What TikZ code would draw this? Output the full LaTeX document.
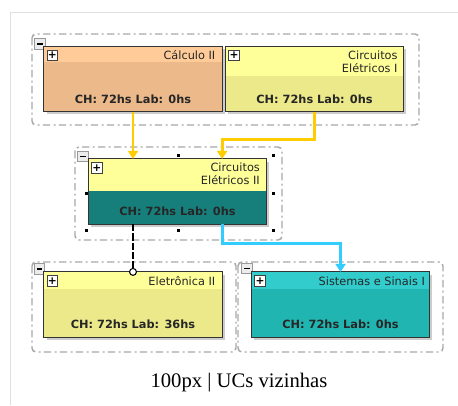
\documentclass[tikz,border=0pt]{standalone}
\usepackage{fontspec}
\setmainfont{Liberation Serif}
\newfontfamily\ucfont{DejaVu Sans}
\usetikzlibrary{arrows.meta,positioning,shadows,calc}

\definecolor{calchead}{HTML}{FFCC99}
\definecolor{calcbody}{HTML}{EBB98A}
\definecolor{yellowhead}{HTML}{FFFF99}
\definecolor{yellowbody}{HTML}{EBE98A}
\definecolor{tealbody}{HTML}{177F7B}
\definecolor{cyanhead}{HTML}{33CCCC}
\definecolor{cyanbody}{HTML}{20B5B0}
\definecolor{prereqline}{HTML}{FFCC00}
\definecolor{nextline}{HTML}{33CCFF}
\definecolor{groupline}{HTML}{A8A8A8}

\tikzset{
	x=0.75pt, y=-0.75pt, % one unit is one pixel, y goes down
	uc/.style={minimum width=133.5pt, minimum height=48.5pt, inner sep=0pt,
		drop shadow={shadow xshift=2pt, shadow yshift=-2pt, fill=black, opacity=0.2}},
	ucframe/.style={draw=black!80, line width=0.8pt},
	uctitle/.style={font=\ucfont\fontsize{8.5}{9.75}\selectfont, align=right, inner sep=0pt, text=black!85},
	ucch/.style={font=\ucfont\bfseries\fontsize{8.5}{10}\selectfont, inner sep=0pt, text=black!85},
	group/.style={draw=groupline, line width=1.1pt, rounded corners=3pt,
		dash pattern=on 5.5pt off 2.5pt on 1.5pt off 2.5pt},
	minusbox/.style={draw=gray!80, fill=gray!15, minimum size=8pt, inner sep=0pt, line width=0.6pt},
	plusbox/.style={draw=black!75, fill=white, minimum size=8pt, inner sep=0pt, line width=0.6pt},
	prereq/.style={draw=prereqline, line width=2.2pt, -{Triangle[length=6pt,width=7.5pt]}},
	nextuc/.style={draw=nextline, line width=2.2pt, -{Triangle[length=6pt,width=7.5pt]}},
	coreq/.style={draw=black, line width=1.8pt, dash pattern=on 5.5pt off 1.5pt,
		-{Circle[open, fill=white, line width=0.8pt, length=6pt, width=6pt]}, shorten >=-3pt},
}

\begin{document}
\begin{tikzpicture}
	\useasboundingbox (0,0) rectangle (458,405);
	\draw[gray!25, line width=0.75pt] (10,405) -- (10,12) -- (458,12);

	% groups
	\draw[group] (32,34) rectangle (419,125);
	\draw[group] (75,147) rectangle (282,240);
	\draw[group] (32,262) rectangle (236,352);
	\draw[group] (238,262) rectangle (443,352);
	\node[minusbox] (top-minus) at (40,44) {\rule{4.5pt}{1pt}};
	\node[minusbox] (mid-minus) at (83,156.5) {\rule{4.5pt}{1pt}};
	\node[minusbox] (left-minus) at (39.5,269) {\rule{4.5pt}{1pt}};
	\node[minusbox] (right-minus) at (247,268.5) {\rule{4.5pt}{1pt}};

	% selection handles
	\foreach \hx/\hy in {178/155, 273/155, 86/193, 273/193, 86/230, 178/230, 273/230}
		\fill (\hx-1.5,\hy-1.5) rectangle ++(3,3);

	% UCs
	\node[uc, fill=calcbody] (calc) at (133,79) {};
	\node[uc, fill=yellowbody, right=2.25pt of calc] (ce1) {};
	\node[uc, fill=tealbody] (ce2) at (177.5,191.5) {};
	\node[uc, fill=yellowbody] (ele) at (133,304.5) {};
	\node[uc, fill=cyanbody, right=21.75pt of ele] (sis) {};

	\foreach \uc/\hh/\hc/\lab in {calc/12pt/calchead/0, ce1/22.5pt/yellowhead/0,
			ce2/24pt/yellowhead/0, ele/12.75pt/yellowhead/36, sis/12.75pt/cyanhead/0}{
		\fill[\hc] (\uc.north west) rectangle ([yshift=-\hh]\uc.north east);
		\draw[ucframe] (\uc.north west) rectangle (\uc.south east);
		\node[plusbox, anchor=north west] (\uc-plus) at ([xshift=2.25pt,yshift=-2.5pt]\uc.north west)
			{\ucfont\bfseries\fontsize{8}{8}\selectfont +};
		\node[ucch] (\uc-ch) at ([yshift=9.4pt]\uc.south) {CH: 72hs Lab: \lab hs};
	}

	\node[uctitle, anchor=north east] (calc-title) at ([xshift=-5pt,yshift=-3pt]calc.north east) {Cálculo II};
	\node[uctitle, anchor=north east] (ce1-title) at ([xshift=-4.5pt,yshift=-3pt]ce1.north east) {Circuitos\\Elétricos I};
	\node[uctitle, anchor=north east] (ce2-title) at ([xshift=-5pt,yshift=-3pt]ce2.north east) {Circuitos\\Elétricos II};
	\node[uctitle, anchor=north east] (ele-title) at ([xshift=-5pt,yshift=-3.5pt]ele.north east) {Eletrônica II};
	\node[uctitle, anchor=north east] (sis-title) at ([xshift=-3.5pt,yshift=-3.5pt]sis.north east) {Sistemas e Sinais I};

	% connectors
	\draw[prereq] (calc.south) -- (calc.south |- ce2.north);
	\draw[prereq] (ce1.south) -- ++(0,28) -| ($(ce2.north)!0.5!(ce2.north east)$);
	\draw[nextuc] ($(ce2.south)!0.5!(ce2.south east)$) -- ++(0,19) -| (sis.north);
	\draw[coreq] (ce2.south -| ele.north) -- (ele.north);

	\node[font=\fontsize{15.5}{18}\selectfont] (caption) at (239,383) {100px | UCs vizinhas};
\end{tikzpicture}
\end{document}
